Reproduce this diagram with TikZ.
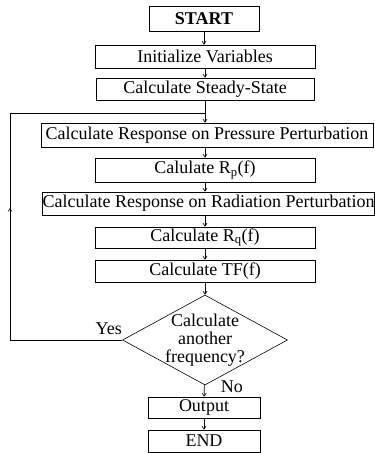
\documentclass[tikz,border=0pt]{standalone}
\usepackage{fontspec}
\setmainfont{Liberation Serif}
\usepackage{tikz}
\usetikzlibrary{shapes.geometric,arrows.meta}

\tikzset{
  stepbox/.style={draw,line width=0.6pt,inner sep=0pt,minimum height=#1},
  stepbox/.default=23pt,
  decide/.style={draw,line width=0.6pt,diamond,inner sep=0pt,minimum width=165pt,minimum height=90pt},
  link/.style={line width=0.6pt,-{Straight Barb[length=3pt,width=4pt]}},
}

\begin{document}
\begin{tikzpicture}[x=1pt,y=-1pt,font=\fontsize{18}{18}\selectfont]
    \useasboundingbox (0,0) rectangle (375,453);
    % boxes of the flow
    \node[stepbox=25pt,minimum width=110pt] (start) at (204,19) {\bfseries START};
    \node[stepbox,minimum width=220pt] (init) at (205,56.5) {Initialize Variables};
    \node[stepbox=22pt,minimum width=218pt] (steady) at (205,89) {Calculate Steady-State};
    \node[stepbox=24pt,minimum width=332pt] (pres) at (207,135) {Calculate Response on Pressure Perturbation};
    \node[stepbox=24pt,minimum width=220pt] (rp) at (205,170) {Calulate R\textsubscript{p}(f)};
    \node[stepbox,minimum width=331pt] (rad) at (208.5,203.5) {Calculate Response on Radiation Perturbation};
    \node[stepbox=21pt,minimum width=220pt] (rq) at (205,237.5) {Calculate R\textsubscript{q}(f)};
    \node[stepbox=22pt,minimum width=220pt] (tf) at (205,271) {Calculate TF(f)};
    \node[decide,label={[align=center,inner sep=0pt]center:Calculate\\another\\frequency?}] (dec) at (205,340) {};
    \node[stepbox=21pt,minimum width=112pt] (out) at (204,407.5) {Output};
    \node[stepbox=22pt,minimum width=112pt] (fin) at (204,441) {END};

    % straight down
    \draw[link] (start) -- (start |- init.north);
    \draw[link] (init) -- (init |- steady.north);
    \draw[link] (steady) -- (steady |- pres.north);
    \draw[link] (pres) -- (pres.south -| rp) -- (rp);
    \draw[link] (rp) -- (rp |- rad.north);
    \draw[link] (rad.south -| rq) -- (rq);
    \draw[link] (rq) -- (tf);
    \draw[link] (tf) -- (dec);
    \draw[link] (dec) -- node[right=13pt,pos=0.15] {No} (out);
    \draw[link] (out) -- (fin);

    % loop back
    \coordinate (lb) at (10,340);
    \coordinate (lt) at (10,113);
    \coordinate (la) at (10,208);
    \coordinate (jn) at (steady |- lt);
    \draw[line width=0.6pt] (dec.west) -- node[above=2pt,pos=0.12] {Yes} (lb) -- (lt) -- (jn);
    \draw[link] (lb) -- (la);
\end{tikzpicture}
\end{document}
